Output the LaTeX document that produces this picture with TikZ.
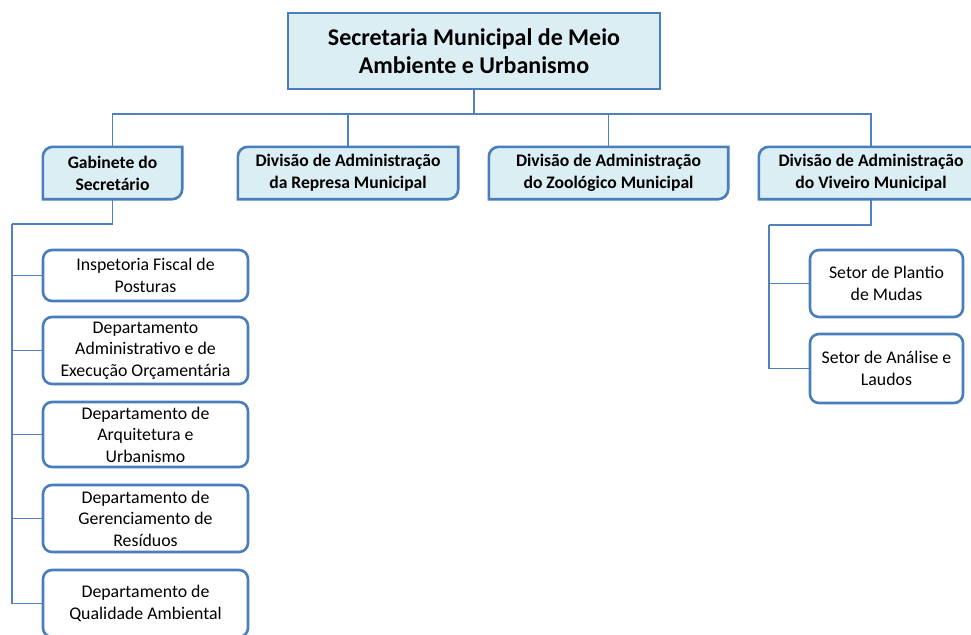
\documentclass[tikz,border=0pt]{standalone}
\usepackage{fontspec}
\setmainfont{Carlito}
\definecolor{bordc}{HTML}{4A7EBB}
\definecolor{linec}{HTML}{5080BE}
\definecolor{fillc}{HTML}{DBEEF4}
\begin{document}
\begin{tikzpicture}[x=1pt,y=-1pt,
  conn/.style={draw=linec,line width=1.4pt},
  topbox/.style={draw=bordc,fill=fillc,line width=2.6pt,minimum width=372pt,minimum height=76pt,
     align=center,font=\fontsize{24}{28}\selectfont\bfseries,inner sep=0pt},
  divbox/.style={minimum height=52pt,align=center,font=\fontsize{17.6}{22}\selectfont\bfseries,inner sep=0pt},
  divshape/.style={draw=bordc,fill=fillc,line width=2.6pt},
  subbox/.style={draw=bordc,fill=white,line width=2.6pt,rounded corners=9pt,align=center,
     font=\fontsize{17.8}{21.5}\selectfont,inner sep=0pt}
]
\useasboundingbox (0,0) rectangle (971,634);
\clip (0,0) rectangle (971,634);
% top
\node[topbox] (top) at (474,51) {Secretaria Municipal de Meio\\Ambiente e Urbanismo};
% second row
\node[divbox,minimum width=139pt] (gab) at (112.5,173) {Gabinete do\\Secretário};
\node[divbox,minimum width=220pt] (rep) at (348,173) {Divisão de Administração\\da Represa Municipal};
\node[divbox,minimum width=239pt] (zoo) at (608.5,173) {Divisão de Administração\\do Zoológico Municipal};
\node[divbox,minimum width=224pt] (viv) at (871,173) {Divisão de Administração\\do Viveiro Municipal};
% children left
\node[subbox,minimum width=205pt,minimum height=51pt] (c1) at (145.5,275.5) {Inspetoria Fiscal de\\Posturas};
\node[subbox,minimum width=205pt,minimum height=67pt] (c2) at (145.5,350.5) {Departamento\\Administrativo e de\\Execução Orçamentária};
\node[subbox,minimum width=205pt,minimum height=65pt] (c3) at (145.5,434.5) {Departamento de\\Arquitetura e\\Urbanismo};
\node[subbox,minimum width=205pt,minimum height=67pt] (c4) at (145.5,518.5) {Departamento de\\Gerenciamento de\\Resíduos};
\node[subbox,minimum width=205pt,minimum height=67pt] (c5) at (145.5,603.5) {Departamento de\\Qualidade Ambiental};
% children right
\node[subbox,minimum width=153pt,minimum height=67pt] (r1) at (886.5,283.5) {Setor de Plantio\\de Mudas};
\node[subbox,minimum width=153pt,minimum height=69pt] (r2) at (886.5,368.5) {Setor de Análise e\\Laudos};
% connector coordinates
\coordinate (hub) at (474,114);
\coordinate (gl) at (12,224);
\coordinate (vl) at (769,225);
% connectors top
\draw[conn] (top.south) -- (hub);
\draw[conn] (gab.north) |- (hub);
\draw[conn] (rep.north) |- (hub);
\draw[conn] (zoo.north) |- (hub);
\draw[conn] (viv.north) |- (hub);
% connectors gabinete
\draw[conn] (gab.south) |- (gl);
\foreach \c in {c1,c2,c3,c4,c5} \draw[conn] (gl) |- (\c.west);
% connectors viveiro
\draw[conn] (viv.south) |- (vl);
\foreach \c in {r1,r2} \draw[conn] (vl) |- (\c.west);
% diagonal-rounded division boxes
\foreach \n in {gab,rep,zoo,viv}{
  \filldraw[divshape] (\n.west) [rounded corners=10pt] -- (\n.north west) -- (\n.north)
     [sharp corners] -- (\n.north east) -- (\n.east)
     [rounded corners=10pt] -- (\n.south east) -- (\n.south)
     [sharp corners] -- (\n.south west) -- cycle;
}
% redraw texts on top
\node[divbox,minimum width=139pt] at (gab) {Gabinete do\\Secretário};
\node[divbox,minimum width=220pt] at (rep) {Divisão de Administração\\da Represa Municipal};
\node[divbox,minimum width=239pt] at (zoo) {Divisão de Administração\\do Zoológico Municipal};
\node[divbox,minimum width=224pt] at (viv) {Divisão de Administração\\do Viveiro Municipal};
\end{tikzpicture}
\end{document}
